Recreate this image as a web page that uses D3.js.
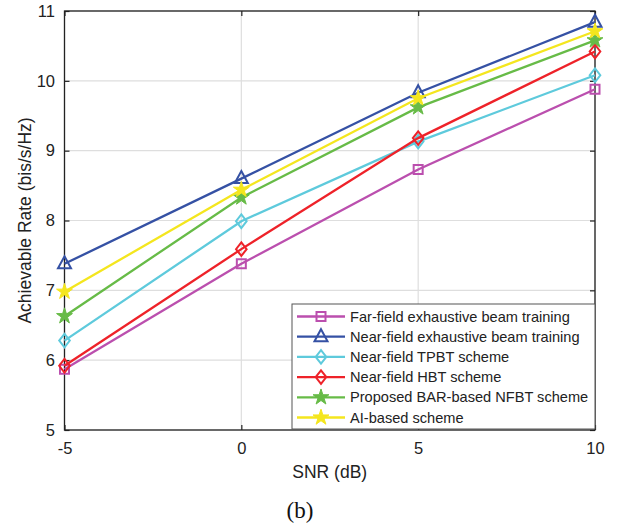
<!DOCTYPE html>
<html>
<head>
<meta charset="utf-8">
<script src="https://cdn.jsdelivr.net/npm/d3@7"></script>
<style>
  body { margin: 0; background: #fff; }
  svg { display: block; }
</style>
</head>
<body>
<div class="chartHolder"></div>
<script>
// chart data
let snr = [-5, 0, 5, 10];
let farExhaustive = [5.87, 7.38, 8.73, 9.88];
let nearExhaustive = [7.38, 8.6, 9.83, 10.84];
let nearTPBT = [6.28, 7.99, 9.13, 10.08];
let nearHBT = [5.92, 7.59, 9.18, 10.42];
let proposedBAR = [6.63, 8.33, 9.62, 10.58];
let aiBased = [6.98, 8.44, 9.75, 10.71];
let seriesNames = [
  "Far-field exhaustive beam training",
  "Near-field exhaustive beam training",
  "Near-field TPBT scheme",
  "Near-field HBT scheme",
  "Proposed BAR-based NFBT scheme",
  "AI-based scheme"
];
let xTicks = [-5, 0, 5, 10];
let yTicks = [5, 6, 7, 8, 9, 10, 11];

let width = 623,
  height = 529;
let margin = { left: 64.5, top: 11, right: 28, bottom: 99 };
let sansFont = "'Liberation Sans', Arial, Helvetica, sans-serif";

let series = [
  { name: seriesNames[0], values: farExhaustive, color: "#bb4fae", marker: "square" },
  { name: seriesNames[1], values: nearExhaustive, color: "#3551a4", marker: "triangle" },
  { name: seriesNames[2], values: nearTPBT, color: "#5ecadc", marker: "diamond" },
  { name: seriesNames[3], values: nearHBT, color: "#ee2229", marker: "diamond" },
  { name: seriesNames[4], values: proposedBAR, color: "#67bb47", marker: "star" },
  { name: seriesNames[5], values: aiBased, color: "#f4e61e", marker: "star" }
];

let svg = d3
  .select(".chartHolder")
  .append("svg")
  .attr("width", width)
  .attr("height", height)
  .style("font-family", sansFont);

let x = d3
  .scaleLinear()
  .domain([-5, 10])
  .range([margin.left, width - margin.right]);
let y = d3
  .scaleLinear()
  .domain([5, 11])
  .range([height - margin.bottom, margin.top]);

let x0 = x.range()[0], x1 = x.range()[1];
let y0 = y.range()[0], y1 = y.range()[1];

// grid
svg.append("g")
  .selectAll("line")
  .data(xTicks)
  .enter()
  .append("line")
  .attr("x1", (d) => x(d)).attr("x2", (d) => x(d))
  .attr("y1", y0).attr("y2", y1)
  .attr("stroke", "#dedede").attr("stroke-width", 1.2);
svg.append("g")
  .selectAll("line")
  .data(yTicks)
  .enter()
  .append("line")
  .attr("x1", x0).attr("x2", x1)
  .attr("y1", (d) => y(d)).attr("y2", (d) => y(d))
  .attr("stroke", "#dedede").attr("stroke-width", 1.2);

// axes, ticks pointing inward like matlab
let plainNum = (d) => String(d);
let axisStyle = (g) => {
  g.attr("font-family", sansFont).attr("font-size", 16.5);
  g.select(".domain").remove();
  g.selectAll(".tick line").attr("stroke", "#222").attr("stroke-width", 1.2);
  g.selectAll(".tick text").attr("fill", "#222");
};
svg.append("g")
  .attr("transform", `translate(0,${y0})`)
  .call(d3.axisBottom(x).tickValues(xTicks).tickFormat(plainNum).tickSizeInner(-5).tickSizeOuter(0).tickPadding(12.5))
  .call(axisStyle);
svg.append("g")
  .attr("transform", `translate(0,${y1})`)
  .call(d3.axisTop(x).tickValues(xTicks).tickSizeInner(-5).tickSizeOuter(0).tickFormat(""))
  .call(axisStyle);
svg.append("g")
  .attr("transform", `translate(${x0},0)`)
  .call(d3.axisLeft(y).tickValues(yTicks).tickFormat(plainNum).tickSizeInner(-5).tickSizeOuter(0).tickPadding(9.5))
  .call(axisStyle);
svg.append("g")
  .attr("transform", `translate(${x1},0)`)
  .call(d3.axisRight(y).tickValues(yTicks).tickSizeInner(-5).tickSizeOuter(0).tickFormat(""))
  .call(axisStyle);

svg.append("rect")
  .attr("x", x0).attr("y", y1)
  .attr("width", x1 - x0).attr("height", y0 - y1)
  .attr("fill", "none").attr("stroke", "#222").attr("stroke-width", 1.3);

// marker shapes
function markerPath(type) {
  if (type === "square") return "M-4.5,-4.5H4.5V4.5H-4.5Z";
  if (type === "triangle") return "M0,-7.5L6.5,4.5H-6.5Z";
  if (type === "diamond") return "M0,-6.8L5.3,0L0,6.8L-5.3,0Z";
  return d3.symbol().type(d3.symbolStar).size(78)();
}
function drawMarker(g, s, cx, cy) {
  g.append("path")
    .attr("d", markerPath(s.marker))
    .attr("transform", `translate(${cx},${cy})`)
    .attr("fill", s.marker === "star" ? s.color : "none")
    .attr("stroke", s.color)
    .attr("stroke-width", s.marker === "star" ? 1 : 2)
    .attr("stroke-linejoin", "miter");
}

let line = d3.line()
  .x((d, i) => x(snr[i]))
  .y((d) => y(d));

series.forEach((s) => {
  let g = svg.append("g");
  g.append("path")
    .datum(s.values)
    .attr("d", line)
    .attr("fill", "none")
    .attr("stroke", s.color)
    .attr("stroke-width", 2.3);
  s.values.forEach((v, i) => drawMarker(g, s, x(snr[i]), y(v)));
});

// legend
let lgX = 292, lgY = 304, lgW = 303, lgH = 125;
let legend = svg.append("g");
legend.append("rect")
  .attr("x", lgX).attr("y", lgY)
  .attr("width", lgW).attr("height", lgH)
  .attr("fill", "#fff").attr("stroke", "#555").attr("stroke-width", 1);
series.forEach((s, i) => {
  let cy = lgY + 12.5 + i * 20.2;
  legend.append("line")
    .attr("x1", lgX + 5).attr("x2", lgX + 53)
    .attr("y1", cy).attr("y2", cy)
    .attr("stroke", s.color).attr("stroke-width", 2.3);
  drawMarker(legend, s, lgX + 29, cy);
  legend.append("text")
    .attr("x", lgX + 58).attr("y", cy + 5)
    .style("font-size", "14.6px")
    .attr("fill", "#222")
    .text(s.name);
});

// labels
svg.append("text")
  .attr("x", (x0 + x1) / 2).attr("y", 478)
  .attr("text-anchor", "middle")
  .style("font-size", "17.5px")
  .attr("fill", "#222")
  .text("SNR (dB)");
svg.append("text")
  .attr("transform", `translate(30.5,${(y0 + y1) / 2}) rotate(-90)`)
  .attr("text-anchor", "middle")
  .style("font-size", "17.5px")
  .attr("fill", "#222")
  .text("Achievable Rate (bis/s/Hz)");
svg.append("text")
  .attr("x", 300).attr("y", 518)
  .attr("text-anchor", "middle")
  .style("font-family", "'Liberation Serif', 'Times New Roman', serif")
  .style("font-size", "23px")
  .attr("fill", "#111")
  .text("(b)");
</script>
</body>
</html>
